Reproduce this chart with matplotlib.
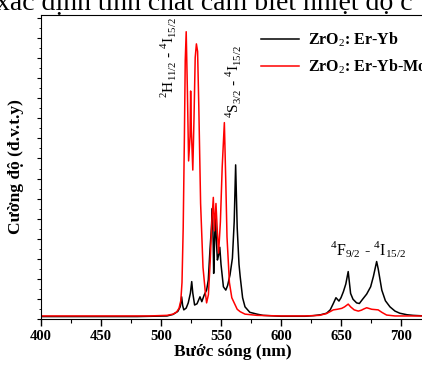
import matplotlib
matplotlib.use("Agg")
import matplotlib.pyplot as plt
from matplotlib.ticker import MultipleLocator, NullFormatter

plt.rcParams['font.family'] = ['Liberation Serif', 'DejaVu Serif']
plt.rcParams['mathtext.fontset'] = 'custom'
plt.rcParams['mathtext.rm'] = 'Liberation Serif'
plt.rcParams['mathtext.bf'] = 'Liberation Serif:bold'

# ZrO2: Er-Yb (black)
wl_eryb = [400, 480, 505, 510, 514, 516, 517.2, 518, 519, 521, 522.7, 524.5, 525.6, 526.5, 528,
           530, 532.5, 534, 536, 538, 539.4, 540.8, 542, 542.8, 543.5, 543.9, 544.6, 545.3, 546,
           547, 548, 549, 550, 552, 554, 555.5, 557.5, 559.5, 561, 562.2, 563.5, 565, 566, 568,
           570, 574, 580, 585, 600, 620, 627, 633, 638, 641, 643.6, 645.8, 648.3, 650, 652, 654,
           656, 657, 658, 660, 663, 665.3, 668, 671.4, 674.7, 677, 679.7, 681, 684, 687, 690.8,
           695, 699, 705, 710, 720]
int_eryb = [0.8, 0.8, 1.0, 1.5, 2.5, 4.0, 7.3, 4.5, 3.0, 3.6, 5.3, 8.5, 12.3, 8.5, 4.6,
            5.0, 7.3, 5.7, 7.9, 9.5, 12.8, 22.7, 30.0, 36.4, 25.0, 15.0, 25.0, 34.7, 27.0,
            19.4, 21.0, 23.6, 18.0, 10.6, 9.5, 11.0, 14.5, 20.0, 32.0, 50.7, 30.0, 18.0, 13.9, 7.0,
            4.0, 2.2, 1.6, 1.2, 0.9, 0.9, 1.1, 1.4, 1.9, 3.0, 5.1, 7.0, 5.9, 7.0, 9.0, 11.5,
            15.6, 12.0, 8.4, 6.5, 5.3, 5.1, 6.5, 8.2, 10.6, 14.0, 18.9, 16.5, 9.5, 6.0, 4.0,
            2.6, 1.9, 1.4, 1.2, 1.0]

# ZrO2: Er-Yb-Mo (red)
wl_erybmo = [400, 490, 505, 510, 513, 515, 516.5, 517.5, 518.5, 519.5, 520.2, 521, 522, 523,
             524.2, 524.7, 525.3, 526.5, 527.5, 528.5, 529.5, 530.5, 531.5, 533, 535, 537, 538,
             539.5, 541, 542.5, 543.6, 544.5, 545.8, 546.8, 548, 549.5, 551, 552.8, 554, 555,
             557, 559, 561, 563.5, 566, 570, 580, 600, 620, 632, 638, 643.6, 647, 650.6, 653,
             656, 658, 661, 664.4, 667, 669, 671.4, 675.6, 681, 684, 688, 695, 720]
int_erybmo = [1.0, 1.0, 1.2, 1.6, 2.3, 3.5, 6.0, 12.0, 30.0, 60.0, 85.0, 94.5, 75.0, 52.0,
              60.0, 75.0, 62.0, 49.0, 66.0, 86.0, 90.5, 88.0, 70.0, 38.0, 17.0, 8.5, 5.3,
              8.0, 19.0, 33.0, 40.0, 29.0, 38.0, 30.0, 21.7, 32.0, 50.0, 64.6, 45.0, 27.0,
              12.0, 7.0, 5.3, 3.2, 2.4, 1.6, 1.2, 1.0, 1.0, 1.2, 1.8, 3.0, 3.2, 3.5, 4.0,
              4.9, 4.0, 3.0, 2.6, 2.9, 3.3, 3.7, 3.2, 3.0, 2.2, 1.3, 1.0, 1.0]

labels = ['ZrO$_2$: Er-Yb', 'ZrO$_2$: Er-Yb-Mo']
xticks = [400, 450, 500, 550, 600, 650, 700]

fig = plt.figure(figsize=(4.22, 3.65), dpi=100)
ax = fig.add_axes([41 / 422, 46 / 365, 384 / 422, 304 / 365])

ax.plot(wl_eryb, int_eryb, color='black', lw=1.1, label=labels[0])
ax.plot(wl_erybmo, int_erybmo, color='red', lw=1.1, label=labels[1])

ax.set_xlim(400, 720)
ax.set_ylim(0, 100)
ax.set_xticks(xticks)
ax.xaxis.set_minor_locator(MultipleLocator(25))
ax.yaxis.set_major_locator(MultipleLocator(6.6))
ax.yaxis.set_minor_locator(MultipleLocator(3.3))
ax.yaxis.set_major_formatter(NullFormatter())
ax.tick_params(axis='x', which='major', length=5, width=1, labelsize=10.5, pad=3)
ax.tick_params(axis='x', which='minor', length=3, width=0.8)
ax.tick_params(axis='y', which='major', length=3, width=0.8)
ax.tick_params(axis='y', which='minor', length=1.5, width=0.6)
for lbl in ax.get_xticklabels():
    lbl.set_fontweight('bold')

ax.set_xlabel('Bước sóng (nm)', fontsize=12.5, fontweight='bold', labelpad=1)
ax.set_ylabel('Cường độ (đ.v.t.y)', fontsize=12.5, fontweight='bold', labelpad=6)

ax.text(506, 86, r'$^{2}$H$_{11/2}$ - $^{4}$I$_{15/2}$', rotation=90, fontsize=11,
        ha='center', va='center')
ax.text(559.6, 78, r'$^{4}$S$_{3/2}$ - $^{4}$I$_{15/2}$', rotation=90, fontsize=11,
        ha='center', va='center')
ax.text(673, 19.5, r'$^{4}$F$_{9/2}$ - $^{4}$I$_{15/2}$', fontsize=11.5,
        ha='center', va='bottom')

leg = ax.legend(loc='upper left', bbox_to_anchor=(0.555, 0.97), frameon=False,
                prop={'weight': 'bold', 'size': 11.5}, handlelength=2.4,
                handletextpad=0.6, labelspacing=0.5, borderaxespad=0)

fig.text(-0.01, 1 - 10 / 365, 'xác định tính chất cảm biết nhiệt độ c', fontsize=20,
         ha='left', va='baseline')

fig.savefig('out.png', dpi=100)
